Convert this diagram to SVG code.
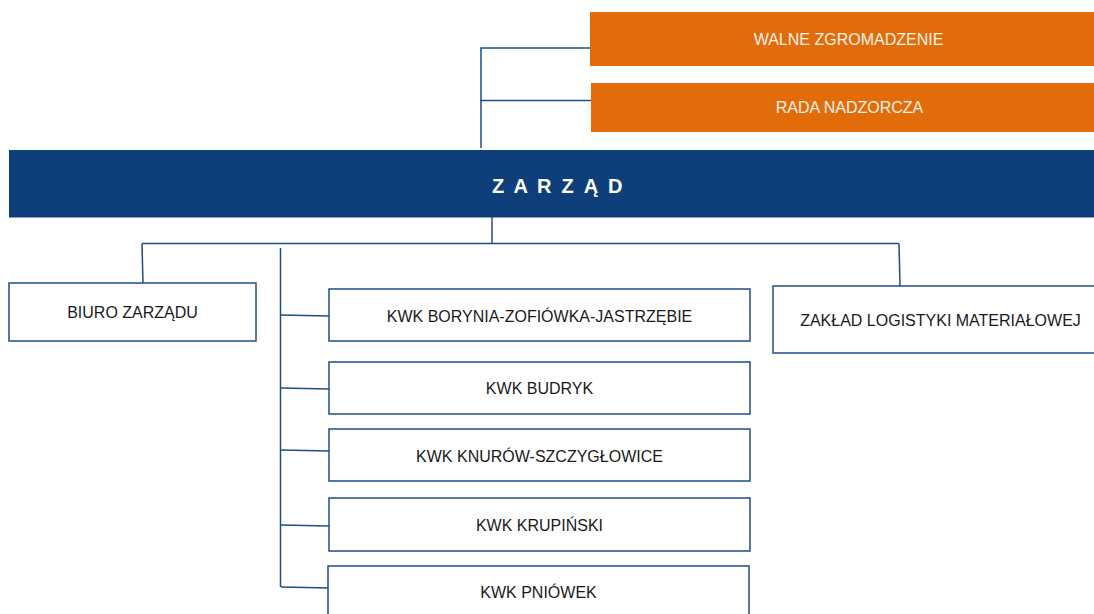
<svg xmlns="http://www.w3.org/2000/svg" width="1094" height="614" viewBox="0 0 1094 614">
<style>
.box{fill:#ffffff;stroke:#1f4e8c;stroke-width:1.5}
.org{fill:#e36c0a}
.t{font-family:"Liberation Sans",Arial,sans-serif;font-size:16px;fill:#1a1a1a;text-anchor:middle}
.tw{font-family:"Liberation Sans",Arial,sans-serif;font-size:16px;fill:#fdf3ea;text-anchor:middle}
.tz{font-family:"Liberation Sans",Arial,sans-serif;font-size:20px;font-weight:bold;fill:#ffffff;letter-spacing:2.2px}
.ln{fill:none;stroke:#1f4e8c;stroke-width:1.5}
</style>
<rect width="1094" height="614" fill="#ffffff"/>
<g id="connectors">
<path class="ln" d="M481,148 V48 H590"/>
<path class="ln" d="M480,100.5 H591"/>
<path class="ln" d="M492,217 V243.5"/>
<path class="ln" d="M142,243.5 H899"/>
<path class="ln" d="M142,243.5 L143,284"/>
<path class="ln" d="M899,243.5 L900,286"/>
<path class="ln" d="M280.5,248 V587"/>
<path class="ln" d="M281,315 L329,316"/>
<path class="ln" d="M281,388 L329,389"/>
<path class="ln" d="M281,450 L329,451"/>
<path class="ln" d="M280,525 L329,526"/>
<path class="ln" d="M281,587 L330,588"/>
</g>
<g id="walne">
<rect class="org" x="590" y="12" width="520" height="54"/>
<text class="tw" x="848.5" y="45">WALNE ZGROMADZENIE</text>
</g>
<g id="rada">
<rect class="org" x="591" y="83" width="520" height="49"/>
<text class="tw" x="849.5" y="113">RADA NADZORCZA</text>
</g>
<g id="zarzad">
<rect x="9" y="150" width="1100" height="67.5" fill="#0f3f7b"/>
<text class="tz" x="492" y="192.5">Z A R Z Ą D</text>
</g>
<g id="biuro">
<rect class="box" x="9" y="283" width="247" height="58"/>
<text class="t" x="132.5" y="318">BIURO ZARZĄDU</text>
</g>
<g id="borynia">
<rect class="box" x="329" y="289" width="421" height="52"/>
<text class="t" x="539.5" y="321.5">KWK BORYNIA-ZOFIÓWKA-JASTRZĘBIE</text>
</g>
<g id="budryk">
<rect class="box" x="329" y="362" width="421" height="52"/>
<text class="t" x="539.5" y="393.5">KWK BUDRYK</text>
</g>
<g id="knurow">
<rect class="box" x="329" y="429" width="421" height="52"/>
<text class="t" x="539.5" y="461.5">KWK KNURÓW-SZCZYGŁOWICE</text>
</g>
<g id="krupinski">
<rect class="box" x="329" y="498" width="421" height="53"/>
<text class="t" x="539.5" y="531">KWK KRUPIŃSKI</text>
</g>
<g id="pniowek">
<rect class="box" x="328" y="566" width="421" height="56"/>
<text class="t" x="538.5" y="598">KWK PNIÓWEK</text>
</g>
<g id="zaklad">
<rect class="box" x="773" y="286" width="340" height="67"/>
<text class="t" x="940.5" y="326">ZAKŁAD LOGISTYKI MATERIAŁOWEJ</text>
</g>
</svg>
